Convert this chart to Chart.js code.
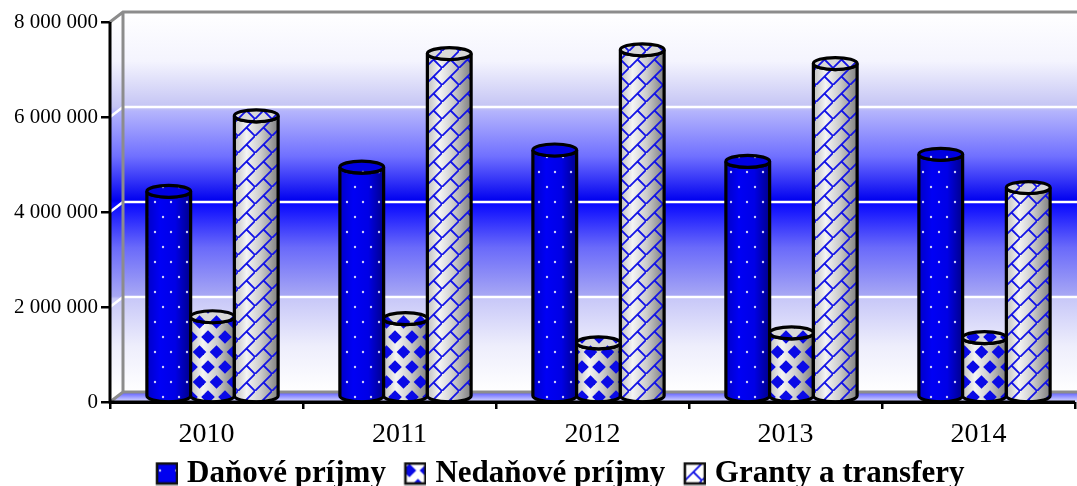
<!DOCTYPE html>
<html><head><meta charset="utf-8">
<style>html,body{margin:0;padding:0;background:#fff}canvas{display:block}</style>
<script src="https://cdn.jsdelivr.net/npm/chart.js@4"></script></head>
<body><canvas id="c" width="1077" height="486" style="width:1077px;height:486px"></canvas>
<script>
const categories = ['2010','2011','2012','2013','2014'];
const seriesNames = ['Daňové príjmy','Nedaňové príjmy','Granty a transfery'];
const danove = [4330000,4840000,5200000,4960000,5110000];
const nedanove = [1690000,1650000,1140000,1350000,1250000];
const granty = [5920000,7230000,7310000,7020000,4410000];
const yTicks = [0,2000000,4000000,6000000,8000000];

const FONT = '"Liberation Serif","Times New Roman",serif';
const DX = 13, DY = 10;

function tile(w,h,bg,draw){
  const c=document.createElement('canvas');c.width=w;c.height=h;
  const g=c.getContext('2d');
  if(bg){g.fillStyle=bg;g.fillRect(0,0,w,h);}
  draw(g);
  return c;
}
function dots(g){g.fillStyle='rgba(215,215,250,.95)';
  [[3,7],[11,22]].forEach(p=>{g.beginPath();g.arc(p[0],p[1],1.2,0,7);g.fill();});}
function diamonds(g){g.fillStyle='#0a0ae6';
  [[4,7],[12.5,22],[21,7],[-4.5,22]].forEach(p=>{g.beginPath();g.moveTo(p[0]-6.8,p[1]);g.lineTo(p[0],p[1]-6.8);g.lineTo(p[0]+6.8,p[1]);g.lineTo(p[0],p[1]+6.8);g.closePath();g.fill();});}
function bricks(g){g.strokeStyle='#1414e6';g.lineWidth=1.8;
  g.beginPath();g.moveTo(-2,19);g.lineTo(19,-2);g.moveTo(8.5,8.5);g.lineTo(19,19);g.stroke();}
const drawers=[dots,diamonds,bricks];
const tileSizes=[[16,30],[17,30],[17,17]];
const ctx0=document.getElementById('c').getContext('2d');
const overlay=drawers.map((d,i)=>ctx0.createPattern(tile(tileSizes[i][0],tileSizes[i][1],null,d),'repeat'));

function swatch(i){
  const c=document.createElement('canvas');c.width=32;c.height=24;
  const g=c.getContext('2d');
  const p=g.createPattern(tile(tileSizes[i][0],tileSizes[i][1],i===0?'#0000f0':'#fff',drawers[i]),'repeat');
  g.translate(11,2);
  g.fillStyle=p;g.fillRect(0,0,20,20);
  g.strokeStyle='#111';g.lineWidth=2.6;g.strokeRect(0,0,20,20);
  return c;
}
const swatches=[0,1,2].map(swatch);

function shade(ctx,l,r,i){
  const g=ctx.createLinearGradient(l,0,r,0);
  if(i===0){g.addColorStop(0,'#0000c8');g.addColorStop(.3,'#0000f5');g.addColorStop(.65,'#0000e6');g.addColorStop(1,'#00008c');}
  else{g.addColorStop(0,'#c0c0c0');g.addColorStop(.28,'#f4f4f4');g.addColorStop(.6,'#cccccc');g.addColorStop(1,'#808080');}
  return g;
}
function cylinder(ctx,el,i){
  const w=el.width, rx=w/2, ry=6;
  const cx=el.x+6, top=el.y-DY/2, bot=el.base-DY/2;
  const l=cx-rx, r=cx+rx;
  ctx.beginPath();ctx.moveTo(l,top);ctx.lineTo(l,bot);
  ctx.ellipse(cx,bot,rx,ry,0,Math.PI,0,true);ctx.lineTo(r,top);
  ctx.ellipse(cx,top,rx,ry,0,0,Math.PI,false);ctx.closePath();
  ctx.fillStyle=shade(ctx,l,r,i);ctx.fill();
  ctx.fillStyle=overlay[i];ctx.fill();
  ctx.lineWidth=3.2;ctx.strokeStyle='#000';ctx.stroke();
  ctx.beginPath();ctx.ellipse(cx,top,rx,ry,0,0,Math.PI*2);
  ctx.fillStyle=i===0?'#0000e0':'#d8d8d8';ctx.fill();
  ctx.fillStyle=overlay[i];ctx.fill();
  ctx.stroke();
}
const wallStops=[[0,'#ffffff'],[.13,'#f4f4fe'],[.25,'#c4c4f4'],[.262,'#b4b4fc'],[.38,'#7070ff'],[.497,'#0000f0'],[.503,'#0808ff'],[.62,'#6a6afa'],[.748,'#a8a8f4'],[.755,'#c8c8f8'],[.88,'#eeeefc'],[1,'#ffffff']];
const scene={
  id:'scene',
  afterLayout(chart){chart.legend.left+=21;chart.legend.right+=21;},
  beforeDatasetsDraw(chart){
    const {ctx,chartArea:a,scales:{y}}=chart;
    const L=a.left,R=a.right,T=a.top,B=a.bottom,W=chart.width;
    ctx.save();
    const wall=ctx.createLinearGradient(0,T-DY,0,B-DY);
    wallStops.forEach(s=>wall.addColorStop(s[0],s[1]));
    ctx.fillStyle=wall;ctx.fillRect(L+DX,T-DY,W-L-DX,B-T);
    ctx.beginPath();ctx.moveTo(L,T);ctx.lineTo(L+DX,T-DY);ctx.lineTo(L+DX,B-DY);ctx.lineTo(L,B);ctx.closePath();ctx.fill();
    const fl=ctx.createLinearGradient(0,B-DY,0,B);
    fl.addColorStop(0,'#5858ff');fl.addColorStop(1,'#e0e0ff');
    ctx.fillStyle=fl;ctx.beginPath();ctx.moveTo(L,B);ctx.lineTo(L+DX,B-DY);ctx.lineTo(W,B-DY);ctx.lineTo(W,B);ctx.closePath();ctx.fill();
    ctx.strokeStyle='#fff';ctx.lineWidth=2.6;
    yTicks.slice(1,4).forEach(v=>{const p=y.getPixelForValue(v);
      ctx.beginPath();ctx.moveTo(L,p);ctx.lineTo(L+DX,p-DY);ctx.lineTo(W,p-DY);ctx.stroke();});
    ctx.strokeStyle='#8c8c8c';ctx.lineWidth=3;
    ctx.beginPath();ctx.moveTo(L,T);ctx.lineTo(L+DX,T-DY);ctx.lineTo(W,T-DY);
    ctx.moveTo(L+DX,T-DY);ctx.lineTo(L+DX,B-DY);ctx.lineTo(W,B-DY);
    ctx.moveTo(L+DX,B-DY);ctx.lineTo(L,B);ctx.stroke();
    const n=categories.length;
    for(let c=0;c<n;c++)for(let d=0;d<3;d++){
      cylinder(ctx,chart.getDatasetMeta(d).data[c],d);
    }
    ctx.strokeStyle='#000';ctx.lineWidth=3;ctx.beginPath();ctx.moveTo(L,T);ctx.lineTo(L,B);ctx.lineTo(R,B);ctx.stroke();
    ctx.restore();
    return false;
  }
};
new Chart(document.getElementById('c'),{
  type:'bar',
  data:{labels:categories,datasets:[
    {label:seriesNames[0],data:danove},
    {label:seriesNames[1],data:nedanove},
    {label:seriesNames[2],data:granty}]},
  plugins:[scene],
  options:{
    responsive:false,animation:false,
    layout:{padding:{left:0,right:2,top:22,bottom:-13},autoPadding:false},
    datasets:{bar:{barPercentage:1,categoryPercentage:0.68}},
    plugins:{
      tooltip:{enabled:false},
      legend:{position:'bottom',labels:{color:'#000',usePointStyle:true,boxWidth:19,boxHeight:19,pointStyleWidth:19,padding:15,
        font:{family:FONT,size:31,weight:'bold'},
        generateLabels:()=>seriesNames.map((t,i)=>({text:t,datasetIndex:i,fontColor:'#000',pointStyle:swatches[i],hidden:false}))}}
    },
    scales:{
      x:{
        afterFit(s){s.height=41;},
        border:{display:true,color:'#000',width:3},
        grid:{display:true,drawOnChartArea:false,drawTicks:true,tickLength:7,color:'#000',lineWidth:2.5,offset:true},
        ticks:{color:'#000',padding:9,font:{family:FONT,size:28},maxRotation:0,autoSkip:false}
      },
      y:{
        min:0,max:8000000,
        afterFit(s){s.width=110;},
        afterBuildTicks(s){s.ticks=yTicks.map(v=>({value:v}));},
        border:{display:true,color:'#000',width:3},
        grid:{display:true,drawOnChartArea:false,drawTicks:true,tickLength:9,color:'#000',lineWidth:2.5},
        ticks:{color:'#000',padding:3,font:{family:FONT,size:21},autoSkip:false,
          callback:v=>String(v).replace(/\B(?=(\d{3})+$)/g,' ')}
      }
    }
  }
});
</script></body></html>
